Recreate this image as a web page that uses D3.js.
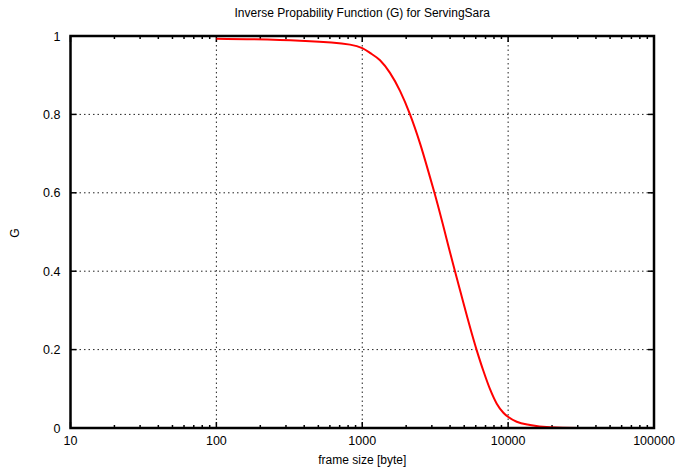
<!DOCTYPE html>
<html><head><meta charset="utf-8">
<script src="https://cdn.jsdelivr.net/npm/d3@7"></script>
<style>body{margin:0;background:#fff}svg{display:block}text{font-family:"Liberation Sans",Arial,sans-serif;fill:#000}</style>
</head><body>
<svg id="c" width="694" height="468"></svg>
<script>
const frameSize = [100, 374, 824, 1000, 1129, 1324, 1549, 1815, 2125, 2489, 2913, 3126, 4322, 6071, 6763, 7515, 8356, 9276, 10030, 11450, 14130, 19380, 30000, 57500];
const gValues   = [0.993, 0.988, 0.978, 0.969, 0.957, 0.938, 0.906, 0.860, 0.800, 0.726, 0.640, 0.600, 0.400, 0.200, 0.146, 0.099, 0.062, 0.039, 0.028, 0.016, 0.0077, 0.002, 0.0003, 0.0];
const xTicks = [10, 100, 1000, 10000, 100000];
const yTicks = [0, 0.2, 0.4, 0.6, 0.8, 1];
const yTickLabels = ["0", "0.2", "0.4", "0.6", "0.8", "1"];

const svg = d3.select("#c");
const L = 70.5, R = 654, T = 36, B = 428;
const x = d3.scaleLog().domain([10, 100000]).range([L, R]);
const y = d3.scaleLinear().domain([0, 1]).range([B, T]);

// grid
const grid = svg.append("g").attr("stroke", "#222").attr("stroke-width", 1).attr("stroke-dasharray", "1.5,3");
xTicks.slice(1, -1).forEach(v => grid.append("line").attr("x1", x(v)).attr("x2", x(v)).attr("y1", T).attr("y2", B));
yTicks.slice(1, -1).forEach(v => grid.append("line").attr("x1", L).attr("x2", R).attr("y1", y(v)).attr("y2", y(v)));

// ticks
const minor = [];
for (let d = 10; d < 100000; d *= 10) for (let k = 2; k <= 9; k++) minor.push(d * k);
const tg = svg.append("g").attr("stroke", "#000").attr("stroke-width", 1.5);
minor.forEach(v => {
  tg.append("line").attr("x1", x(v)).attr("x2", x(v)).attr("y1", B).attr("y2", B - 3);
  tg.append("line").attr("x1", x(v)).attr("x2", x(v)).attr("y1", T).attr("y2", T + 3);
});
xTicks.forEach(v => {
  tg.append("line").attr("x1", x(v)).attr("x2", x(v)).attr("y1", B).attr("y2", B - 6);
  tg.append("line").attr("x1", x(v)).attr("x2", x(v)).attr("y1", T).attr("y2", T + 6);
});
yTicks.forEach(v => {
  tg.append("line").attr("x1", L).attr("x2", L + 6).attr("y1", y(v)).attr("y2", y(v));
  tg.append("line").attr("x1", R).attr("x2", R - 6).attr("y1", y(v)).attr("y2", y(v));
});

// curve
const line = d3.line().x((d, i) => x(frameSize[i])).y(d => y(d)).curve(d3.curveMonotoneX);
svg.append("path").attr("d", line(gValues)).attr("fill", "none").attr("stroke", "#f00").attr("stroke-width", 2);

// frame
svg.append("rect").attr("x", L).attr("y", T).attr("width", R - L).attr("height", B - T)
  .attr("fill", "none").attr("stroke", "#000").attr("stroke-width", 2.5);

// labels
xTicks.forEach(v => svg.append("text").attr("x", x(v)).attr("y", B + 17).attr("text-anchor", "middle")
  .attr("font-size", 12.5).text(String(v)));
yTicks.forEach((v, i) => svg.append("text").attr("x", L - 10).attr("y", y(v) + 4.5).attr("text-anchor", "end")
  .attr("font-size", 12.5).text(yTickLabels[i]));

svg.append("text").attr("x", (L + R) / 2).attr("y", 17).attr("text-anchor", "middle").attr("font-size", 12)
  .text("Inverse Propability Function (G) for ServingSara");
svg.append("text").attr("x", (L + R) / 2).attr("y", 464).attr("text-anchor", "middle").attr("font-size", 12)
  .text("frame size [byte]");
svg.append("text").attr("transform", "translate(19,233) rotate(-90)").attr("text-anchor", "middle").attr("font-size", 12)
  .text("G");
</script>
</body></html>
